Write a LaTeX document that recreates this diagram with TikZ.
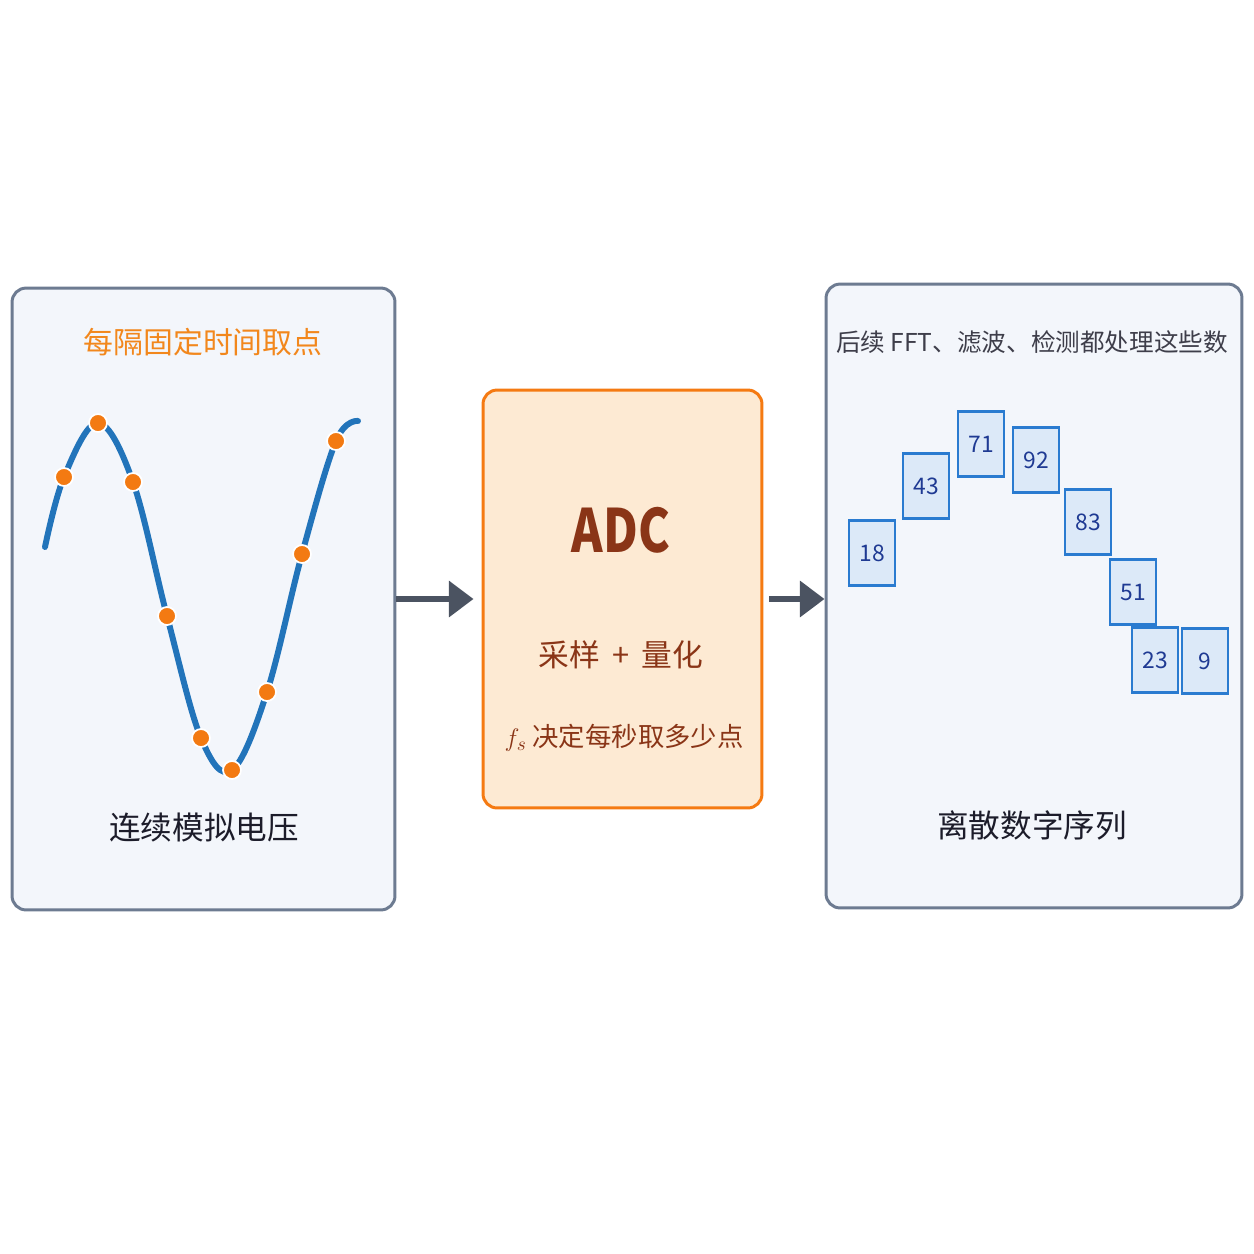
\documentclass[tikz,border=0pt]{standalone}
\usepackage{fontspec}
\setmainfont{Noto Sans CJK SC}
\usetikzlibrary{arrows.meta,positioning}
\definecolor{panelfill}{HTML}{F3F6FB}
\definecolor{paneldraw}{HTML}{6D7B91}
\definecolor{adcfill}{HTML}{FDEAD3}
\definecolor{adcdraw}{HTML}{F57A12}
\definecolor{adctext}{HTML}{8A3517}
\definecolor{titleorange}{HTML}{F2871C}
\definecolor{wave}{HTML}{2274BA}
\definecolor{dotorange}{HTML}{F37A12}
\definecolor{cellfill}{HTML}{DCE9F8}
\definecolor{celldraw}{HTML}{2A7BD0}
\definecolor{celltext}{HTML}{1F3A93}
\definecolor{arrowgrey}{HTML}{4B5361}
\definecolor{ink}{HTML}{1C1C2A}
\begin{document}
\begin{tikzpicture}[x=0.02cm, y=-0.02cm,
  panel/.style={draw=paneldraw, fill=panelfill, line width=1.7pt, rounded corners=8pt, inner sep=0pt},
  flow/.style={draw=arrowgrey, line width=3.3pt, -{Triangle[length=14pt,width=20pt]}},
  sample/.style={circle, fill=dotorange, draw=white, line width=1pt, minimum size=0.36cm, inner sep=0pt},
  cell/.style={draw=celldraw, fill=cellfill, line width=1.6pt, minimum width=0.92cm, minimum height=1.3cm, inner sep=0pt, text=celltext, font=\fontsize{13}{15}\selectfont}]
\useasboundingbox[fill=white] (0,0) rectangle (1254,1254);
% three stages
\node[panel, minimum width=7.66cm, minimum height=12.44cm] (lp) at (203.5,599) {};
\node[panel, draw=adcdraw, fill=adcfill, minimum width=5.58cm, minimum height=8.36cm] (adc) at (622.5,599) {};
\node[panel, minimum width=8.32cm, minimum height=12.48cm] (rp) at (1034,596) {};
\draw[flow, shorten >=0.16cm] (lp.east) -- (adc.west);
\draw[flow, shorten <=0.12cm] (adc.east) -- (adc.east -| rp.west);
% analog signal
\node[text=titleorange, font=\fontsize{17}{20}\selectfont] (ltitle) at (203,342) {每隔固定时间取点};
\draw[wave, line width=3.4pt, line cap=round] plot[smooth, tension=0.6] coordinates {(45,547) (64,477) (98,423) (133,482) (167,616) (201,738) (232,770) (267,692) (302,554) (336,441) (358,421)};
\foreach \x/\y [count=\i] in {64/477, 98/423, 133/482, 167/616, 201/738, 232/770, 267/692, 302/554, 336/441}
  \node[sample] (s\i) at (\x,\y) {};
\node[text=ink, font=\fontsize{18}{21}\selectfont] (llabel) at (204,828) {连续模拟电压};
% converter
\node[text=adctext, font=\fontsize{34}{38}\selectfont\bfseries] (adcname) at (621,530) {\scalebox{0.8}[1]{ADC}};
\node[text=adctext, font=\fontsize{17.5}{20}\selectfont] (adcop) at (621,655) {采样\hspace{0.4em}+\hspace{0.4em}量化};
\node[text=adctext, font=\fontsize{15}{18}\selectfont] (adcrate) at (624,738) {$f_s$ 决定每秒取多少点};
% digital samples
\node[text=ink!85, font=\fontsize{14}{17}\selectfont] (rtitle) at (1032,342) {后续 FFT、滤波、检测都处理这些数};
\foreach \v/\x/\y in {18/872/553, 43/926/486, 71/981/444, 92/1036/460, 83/1088/522, 51/1133/592, 23/1155/660, 9/1205/661}
  \node[cell] (c\v) at (\x,\y) {\v};
\node[text=ink, font=\fontsize{18}{21}\selectfont] (rlabel) at (1032,825) {离散数字序列};
\end{tikzpicture}
\end{document}
